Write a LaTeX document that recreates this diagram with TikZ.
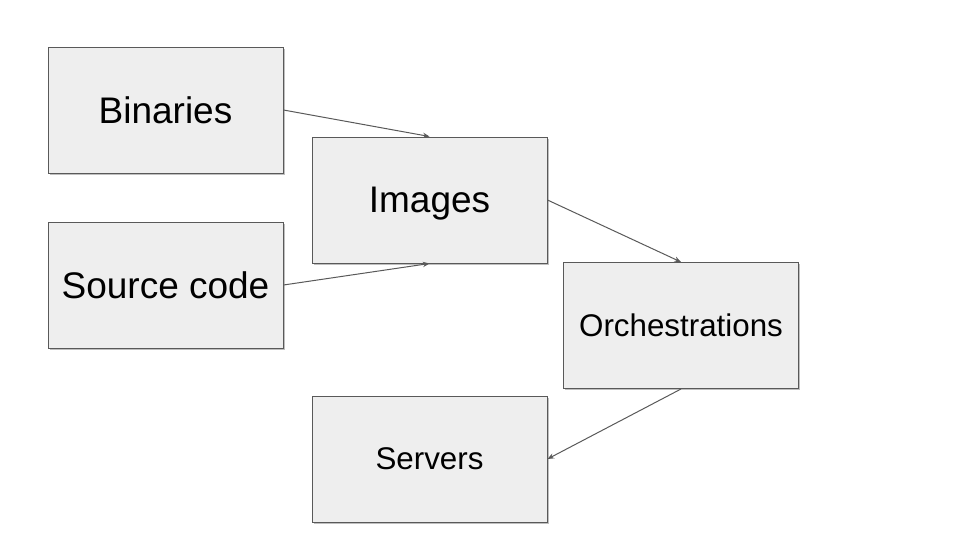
\documentclass[tikz,border=0pt]{standalone}
\usepackage{fontspec}
\setmainfont{Liberation Sans}
\usetikzlibrary{arrows.meta,shadows}

\definecolor{boxfill}{HTML}{EEEEEE}
\definecolor{boxline}{HTML}{595959}

\tikzset{
  stage/.style={draw=boxline, fill=boxfill, line width=0.75pt,
    minimum width=176.25pt, minimum height=94.5pt, inner sep=0pt, text depth=0pt,
    drop shadow={shadow xshift=1.2pt, shadow yshift=-1.2pt, fill=black, opacity=0.25}},
  big/.style={font=\fontsize{27.75}{32}\selectfont},
  small/.style={font=\fontsize{23.5}{28}\selectfont},
  flow/.style={draw=boxline, line width=0.75pt, -{Stealth[length=5pt,width=4pt]}}
}

\begin{document}
\begin{tikzpicture}[x=0.75pt, y=-0.75pt]
  \useasboundingbox (0,0) rectangle (960,540);

  % Boxes
  \node[stage, big] (bin) at (165.5, 110) {Binaries};
  \node[stage, big] (img) at (429.5, 200) {Images};
  \node[stage, big] (src) at (165.5, 285) {Source code};
  \node[stage, small] (orch) at (681, 325.5) {Orchestrations};
  \node[stage, small] (srv) at (429.5, 459) {Servers};

  % Arrows
  \draw[flow] (bin.east) -- (img.north);
  \draw[flow] (src.east) -- (img.south);
  \draw[flow] (img.east) -- (orch.north);
  \draw[flow] (orch.south) -- (srv.east);
\end{tikzpicture}
\end{document}
